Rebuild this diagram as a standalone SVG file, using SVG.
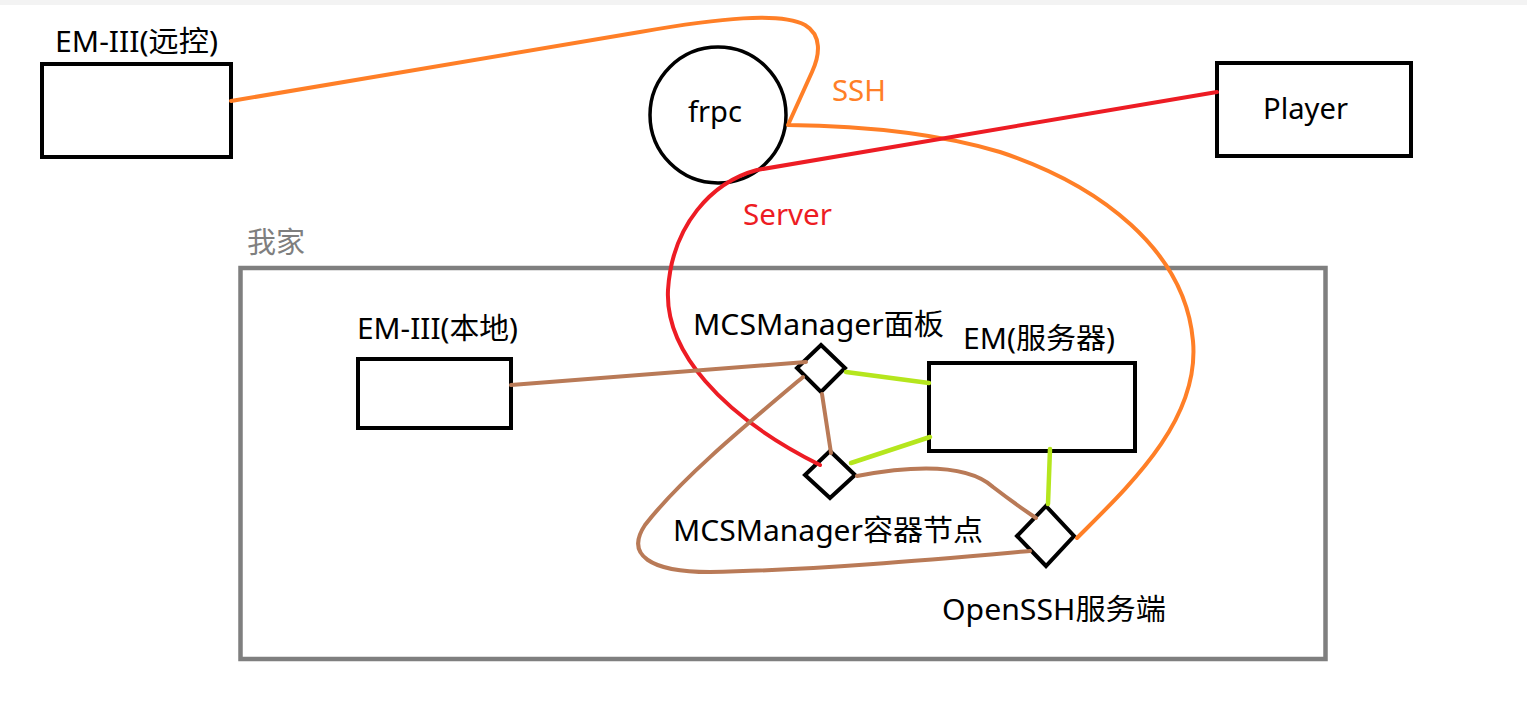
<svg xmlns="http://www.w3.org/2000/svg" width="1527" height="714" viewBox="0 0 1527 714">
<style>
text{font-family:"Noto Sans","Noto Sans CJK SC",sans-serif;font-size:29px;fill:#000}
.box{fill:#fff;stroke:#000;stroke-width:4}
.dia{fill:none;stroke:#000;stroke-width:4;stroke-linejoin:miter}
.c{fill:none;stroke-width:4;stroke-linecap:round;stroke-linejoin:round}
.or{stroke:#ff7f27}.rd{stroke:#ed1c24}.br{stroke:#b97a57}.lm{stroke:#b5e61d;stroke-width:4.5}
</style>
<rect x="0" y="0" width="1527" height="714" fill="#fff"/>
<rect x="0" y="0" width="1527" height="5" fill="#f3f3f3"/>
<g id="home">
<rect x="240.5" y="268" width="1085" height="391" fill="none" stroke="#7f7f7f" stroke-width="4.5"/>
<text x="247" y="253" style="fill:#7f7f7f" textLength="58" lengthAdjust="spacingAndGlyphs">我家</text>
</g>
<g id="em-remote">
<rect class="box" x="42" y="64" width="189" height="93"/>
<text x="55" y="52" textLength="163" lengthAdjust="spacingAndGlyphs">EM-III(远控)</text>
</g>
<g id="frpc">
<circle cx="718" cy="115" r="68" fill="#fff" stroke="#000" stroke-width="3.5"/>
<text x="688" y="122" textLength="54" lengthAdjust="spacingAndGlyphs">frpc</text>
</g>
<g id="player">
<rect class="box" x="1217" y="63" width="194" height="93"/>
<text x="1263" y="119" textLength="85" lengthAdjust="spacingAndGlyphs">Player</text>
</g>
<g id="em-local">
<rect class="box" x="358" y="359" width="153" height="69"/>
<text x="357" y="339" textLength="161" lengthAdjust="spacingAndGlyphs">EM-III(本地)</text>
</g>
<g id="em-server">
<rect class="box" x="929" y="363" width="206" height="88"/>
<text x="963" y="349" textLength="152" lengthAdjust="spacingAndGlyphs">EM(服务器)</text>
</g>
<g id="mcs-panel">
<polygon class="dia" points="821,345 845,368 821,392 797,368"/>
<text x="693" y="335" textLength="251" lengthAdjust="spacingAndGlyphs">MCSManager面板</text>
</g>
<g id="mcs-node">
<polygon class="dia" points="830,451 855,475 830,498 805,475"/>
<text x="673" y="541" textLength="310" lengthAdjust="spacingAndGlyphs">MCSManager容器节点</text>
</g>
<g id="openssh">
<polygon class="dia" points="1046,506 1074,536 1046,566 1017,536"/>
<text x="942" y="620" textLength="224" lengthAdjust="spacingAndGlyphs">OpenSSH服务端</text>
</g>
<g id="connectors">
<path class="c or" d="M231,101 L640,32 C720,18 780,12 805,25 C822,35 820,55 812,72 L788,125 C870,126 940,134 1000,152 C1100,185 1185,250 1193,341 C1200,420 1130,485 1077,538"/>
<path class="c rd" d="M1217,92 L757,170 C712,182 672,225 668,290 C665,350 720,415 820,465"/>
<path class="c br" d="M511,385 L806,362"/>
<path class="c br" d="M822,394 L831,453"/>
<path class="c br" d="M857,476 C905,467 965,462 993,487 C1010,500 1024,510 1036,518"/>
<path class="c br" d="M803,377 C740,430 680,480 645,525 C625,555 650,572 710,572 C820,570 950,558 1030,551"/>
<path class="c lm" d="M846,372 L929,383"/>
<path class="c lm" d="M851,463 L930,437"/>
<path class="c lm" d="M1050,449 L1048,504"/>
<text x="832" y="101" style="fill:#ff7f27" textLength="54" lengthAdjust="spacingAndGlyphs">SSH</text>
<text x="743" y="225" style="fill:#ed1c24" textLength="89" lengthAdjust="spacingAndGlyphs">Server</text>
</g>
</svg>
